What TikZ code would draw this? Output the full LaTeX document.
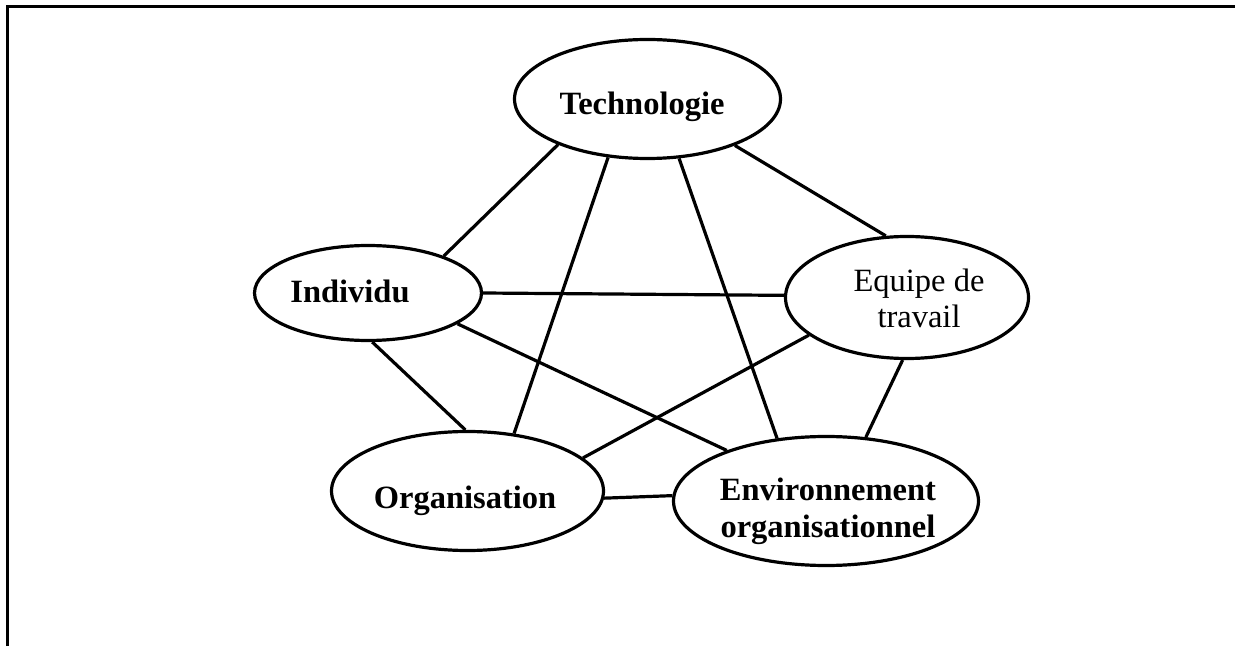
\documentclass[tikz,border=0pt]{standalone}
\usepackage{fontspec}
\setmainfont{Liberation Serif}
\usetikzlibrary{shapes.geometric}
\begin{document}
\begin{tikzpicture}[x=1pt,y=1pt,
  oval/.style={ellipse,draw,line width=3.2pt,inner sep=0pt},
  lbl/.style={anchor=base,align=center,inner sep=0pt,font=\fontsize{32.5}{37}\selectfont\bfseries},
  lblr/.style={anchor=base,align=center,inner sep=0pt,font=\fontsize{32.5}{36}\selectfont},
  link/.style={line width=3.2pt}]
\useasboundingbox (0,0) rectangle (1235,646);
% frame
\draw[line width=3pt] (7,0) -- (7,639) -- (1235,639);
% ellipses
\node[oval,minimum width=266,minimum height=119] (tech) at (647.5,547) {};
\node[oval,minimum width=227,minimum height=95] (ind) at (368,353) {};
\node[oval,minimum width=243,minimum height=122] (equ) at (907,348.5) {};
\node[oval,minimum width=272,minimum height=119] (org) at (467.5,155) {};
\node[oval,minimum width=305,minimum height=129] (env) at (826,145) {};
% texts
\node[lbl] (ttech) at (642,531) {Technologie};
\node[lbl] (tind) at (350,343) {Individu};
\node[lblr] (tequ) at (919,318) {Equipe de\\travail};
\node[lbl] (torg) at (465,138) {Organisation};
\node[lbl] (tenv) at (828,109) {Environnement\\organisationnel};
% connectors
\draw[link] (tech.207.5) -- (ind.26.9);
\draw[link] (tech.236) -- (org.51.2);
\draw[link] (tech.298.4) -- (env.128.1);
\draw[link] (tech.332.2) -- (equ.109.5);
\draw[link] (ind.0) -- (equ.179);
\draw[link] (ind.341.4) -- (env.153.4);
\draw[link] (ind.275.2) -- (org.92.5);
\draw[link] (equ.201.4) -- (org.16.4);
\draw[link] (equ.266.4) -- (env.58.8);
\draw[link] (org.357.5) -- (env.178.5);
\end{tikzpicture}
\end{document}
